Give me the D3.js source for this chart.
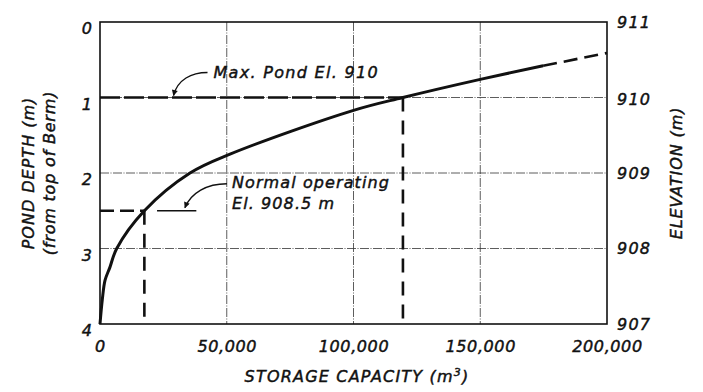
<!DOCTYPE html>
<html>
<head>
<meta charset="utf-8">
<script src="https://cdn.jsdelivr.net/npm/d3@7"></script>
<style>
  html, body { margin: 0; padding: 0; background: #fff; }
  svg { display: block; }
  text {
    font-family: "DejaVu Sans", sans-serif; font-style: italic; fill: #111;
    stroke: #111; stroke-width: 0.45px;
  }
</style>
</head>
<body>
<svg id="chart" width="703" height="392"></svg>
<script>
// Stage–storage curve for the pond
const capacity = [0, 900, 2000, 3900, 6600, 17500, 35500, 51300, 100000, 119500, 150000, 174800];
const depth    = [4.0, 3.68, 3.42, 3.25, 3.0, 2.5, 2.0, 1.75, 1.17, 1.0, 0.76, 0.58];
// Extrapolated part of the curve (drawn dashed)
const extCapacity = [174800, 200000];
const extDepth    = [0.58, 0.41];

// Axis ticks
const depthTicks = [0, 1, 2, 3, 4];
const elevTicks = [911, 910, 909, 908, 907];
const capTicks = [0, 50000, 100000, 150000, 200000];
const capTickLabels = ["0", "50,000", "100,000", "150,000", "200,000"];

// Reference levels
const maxPond = { depth: 1.0, capacity: 119500, label: "Max. Pond El. 910" };
const normalOp = { depth: 2.5, capacity: 17500, label: ["Normal operating", "El. 908.5 m"] };

const svg = d3.select("#chart");
const x = d3.scaleLinear().domain([0, 200000]).range([100, 607]);
const y = d3.scaleLinear().domain([0, 4]).range([22, 324]);
const yElev = d3.scaleLinear().domain([911, 907]).range([22, 324]);

// Grid
const grid = svg.append("g").attr("stroke", "#333").attr("stroke-width", 0.8)
  .attr("stroke-dasharray", "9,1.5,1,1.5");
grid.selectAll("line.h").data(depthTicks.slice(1, -1)).join("line")
  .attr("x1", x(0)).attr("x2", x(200000)).attr("y1", d => y(d)).attr("y2", d => y(d));
grid.selectAll("line.v").data(capTicks.slice(1, -1)).join("line")
  .attr("y1", y(0)).attr("y2", y(4)).attr("x1", d => x(d)).attr("x2", d => x(d));

// Frame
svg.append("rect")
  .attr("x", x(0)).attr("y", y(0))
  .attr("width", x(200000) - x(0)).attr("height", y(4) - y(0))
  .attr("fill", "none").attr("stroke", "#111").attr("stroke-width", 1.6);

// Axes (labels only, lettered style)
const fontSize = 16;
const styleTicks = sel => sel
  .style("font-family", "DejaVu Sans").style("font-style", "italic")
  .style("fill", "#111").style("stroke", "#111").style("stroke-width", "0.45px");

const leftAxis = d3.axisLeft(y).tickValues(depthTicks).tickSize(0).tickPadding(8)
  .tickFormat(d3.format("d"));
svg.append("g").attr("transform", `translate(${x(0)},0)`).call(leftAxis)
  .call(g => g.select(".domain").remove())
  .selectAll("text").attr("font-size", fontSize).attr("dy", "0.72em").call(styleTicks);

const rightAxis = d3.axisRight(yElev).tickValues(elevTicks).tickSize(0).tickPadding(10)
  .tickFormat(d3.format("d"));
svg.append("g").attr("transform", `translate(${x(200000)},0)`).call(rightAxis)
  .call(g => g.select(".domain").remove())
  .selectAll("text").attr("font-size", fontSize).attr("letter-spacing", 1.2)
  .attr("dy", d => d === 910 ? "0.45em" : "0.32em").call(styleTicks);

const bottomAxis = d3.axisBottom(x).tickValues(capTicks).tickSize(0).tickPadding(17)
  .tickFormat((d, i) => capTickLabels[i]);
svg.append("g").attr("transform", `translate(0,${y(4)})`).call(bottomAxis)
  .call(g => g.select(".domain").remove())
  .selectAll("text").attr("font-size", fontSize).attr("letter-spacing", 0.6).call(styleTicks);

// Axis titles
const titleSize = 16;
svg.append("text")
  .attr("transform", `translate(34,${(y(0) + y(4)) / 2}) rotate(-90)`)
  .attr("text-anchor", "middle").attr("font-size", titleSize).attr("letter-spacing", 1)
  .text("POND DEPTH (m)");
svg.append("text")
  .attr("transform", `translate(55,${(y(0) + y(4)) / 2}) rotate(-90)`)
  .attr("text-anchor", "middle").attr("font-size", titleSize).attr("letter-spacing", 0.8)
  .text("(from top of Berm)");
svg.append("text")
  .attr("transform", `translate(682,${(y(0) + y(4)) / 2}) rotate(-90)`)
  .attr("text-anchor", "middle").attr("font-size", titleSize).attr("letter-spacing", 0.9)
  .text("ELEVATION (m)");
const xt = svg.append("text")
  .attr("x", 357).attr("y", 382)
  .attr("text-anchor", "middle").attr("font-size", titleSize).attr("letter-spacing", 1.2);
xt.append("tspan").text("STORAGE CAPACITY (m");
xt.append("tspan").attr("dy", -6).attr("font-size", 11).text("3");
xt.append("tspan").attr("dy", 6).text(")");

// Reference level lines (dashed)
svg.append("line")
  .attr("x1", x(0)).attr("x2", x(maxPond.capacity))
  .attr("y1", y(maxPond.depth)).attr("y2", y(maxPond.depth))
  .attr("stroke", "#111").attr("stroke-width", 2.6).attr("stroke-dasharray", "20,4");
svg.append("line")
  .attr("x1", x(maxPond.capacity)).attr("x2", x(maxPond.capacity))
  .attr("y1", y(maxPond.depth)).attr("y2", y(4))
  .attr("stroke", "#111").attr("stroke-width", 2.6).attr("stroke-dasharray", "14,9");
svg.append("line")
  .attr("x1", x(0)).attr("x2", x(normalOp.capacity))
  .attr("y1", y(normalOp.depth)).attr("y2", y(normalOp.depth))
  .attr("stroke", "#111").attr("stroke-width", 2.6).attr("stroke-dasharray", "14,6");
svg.append("line")
  .attr("x1", x(normalOp.capacity)).attr("x2", x(normalOp.capacity))
  .attr("y1", y(normalOp.depth)).attr("y2", y(4))
  .attr("stroke", "#111").attr("stroke-width", 2.6).attr("stroke-dasharray", "14,9");

// Storage curve
const line = d3.line().curve(d3.curveCatmullRom.alpha(0.5)).x(d => x(d[0])).y(d => y(d[1]));
svg.append("path")
  .datum(capacity.map((c, i) => [c, depth[i]]))
  .attr("d", line).attr("fill", "none").attr("stroke", "#111")
  .attr("stroke-width", 3).attr("stroke-linejoin", "round");
svg.append("path")
  .datum(extCapacity.map((c, i) => [c, extDepth[i]]))
  .attr("d", line).attr("fill", "none").attr("stroke", "#111")
  .attr("stroke-width", 2.6).attr("stroke-dasharray", "14,7");

// Arrowhead marker for leaders
svg.append("defs").append("marker")
  .attr("id", "arrow").attr("viewBox", "0 0 10 10")
  .attr("refX", 9).attr("refY", 5)
  .attr("markerWidth", 9).attr("markerHeight", 6).attr("markerUnits", "userSpaceOnUse")
  .attr("orient", "auto")
  .append("path").attr("d", "M0,0 L10,5 L0,10 Z").attr("fill", "#111");

// Max pond annotation
const annSize = 16;
const mpX = x(29000), mpY = y(maxPond.depth);
svg.append("path")
  .attr("d", `M${mpX + 34},${mpY - 25} C${mpX + 18},${mpY - 25} ${mpX + 4},${mpY - 18} ${mpX},${mpY - 2}`)
  .attr("fill", "none").attr("stroke", "#111").attr("stroke-width", 1.4)
  .attr("marker-end", "url(#arrow)");
svg.append("text")
  .attr("x", mpX + 40).attr("y", mpY - 20)
  .attr("font-size", annSize).attr("letter-spacing", 1.3)
  .text(maxPond.label);

// Normal operating annotation
const noY = y(normalOp.depth);
svg.append("line")
  .attr("x1", x(22500)).attr("x2", x(38000)).attr("y1", noY).attr("y2", noY)
  .attr("stroke", "#111").attr("stroke-width", 1.6);
const noX = x(33500);
svg.append("path")
  .attr("d", `M${noX + 42},${noY - 27} C${noX + 22},${noY - 27} ${noX + 6},${noY - 18} ${noX},${noY - 3}`)
  .attr("fill", "none").attr("stroke", "#111").attr("stroke-width", 1.4)
  .attr("marker-end", "url(#arrow)");
svg.selectAll("text.no").data(normalOp.label).join("text")
  .attr("class", "no")
  .attr("x", noX + 47).attr("y", (d, i) => noY - 23 + i * 21)
  .attr("font-size", annSize).attr("letter-spacing", 1.1)
  .text(d => d);
</script>
</body>
</html>
